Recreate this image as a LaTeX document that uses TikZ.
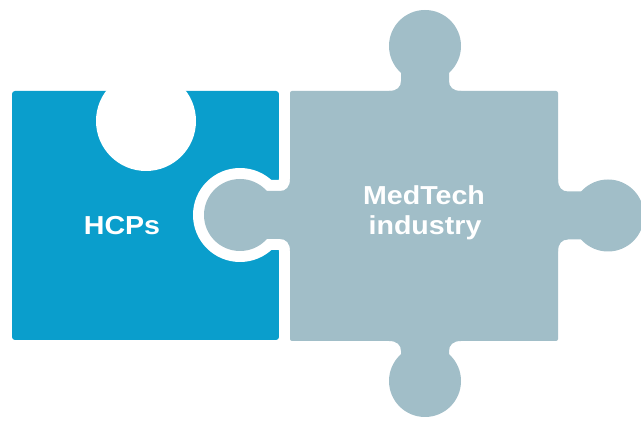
\documentclass[tikz,border=0pt]{standalone}
\usepackage{fontspec}
\newfontfamily\pfont[FakeStretch=1.1]{Liberation Sans}
\definecolor{hcpblue}{RGB}{10,158,204}
\definecolor{mtgrey}{RGB}{161,190,200}
\newcommand\knob[4]{%
  \begin{scope}[shift={(#1)},rotate=#2]
    \path[#4] (-36,-3) -- (-36,0) .. controls (-28,0) and (-24,4) .. (-24,10) -- (-24,30) -- (24,30) -- (24,10) .. controls (24,4) and (28,0) .. (36,0) -- (36,-3) -- cycle;
    \path[#4] (0,#3) circle[radius=36];
  \end{scope}}
\begin{document}
\begin{tikzpicture}[x=1pt,y=1pt,line join=round,
  lbl/.style={text=white,font=\pfont\bfseries\fontsize{26}{30}\selectfont,anchor=base,inner sep=0pt},
  gapline/.style={draw=white,line width=22pt},
  greyfill/.style={fill=mtgrey}]
\useasboundingbox (0,0) rectangle (641,421);
% blue piece with its hole
\fill[hcpblue,rounded corners=3pt] (12,81) rectangle (279,330);
\fill[white] (146,300) circle[radius=50];
% white outline of grey piece (gap)
\path[gapline] (290,80) rectangle (558,330);
\knob{290,206}{90}{50}{gapline}
% grey piece
\fill[mtgrey,rounded corners=2pt] (290,80) rectangle (558,330);
\knob{425,330}{0}{45}{greyfill}
\knob{425,80}{180}{40}{greyfill}
\knob{558,205.5}{-90}{50}{greyfill}
\knob{290,206}{90}{50}{greyfill}
% labels
\node[lbl] (hcp) at (122,186) {HCPs};
\node[lbl] (med) at (424,216) {MedTech};
\node[lbl] (ind) at (425,186) {industry};
\end{tikzpicture}
\end{document}
